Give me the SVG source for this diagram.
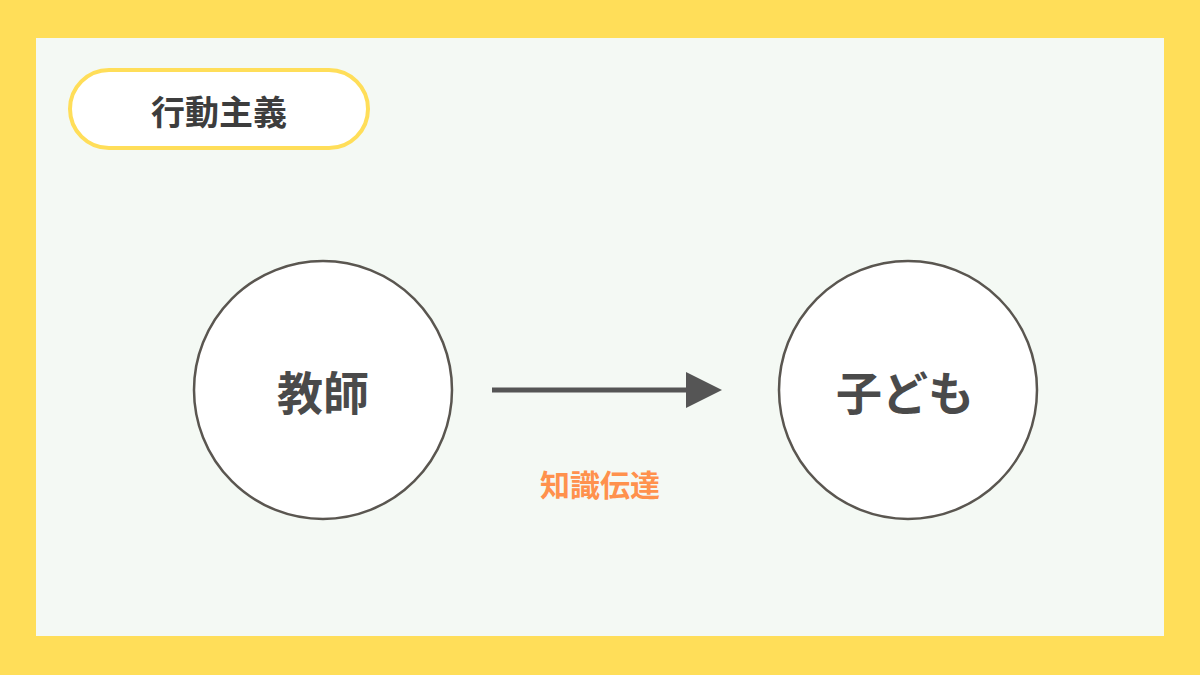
<svg xmlns="http://www.w3.org/2000/svg" width="1200" height="675" viewBox="0 0 1200 675">
<style>
text{font-family:"Noto Sans CJK JP","Noto Sans",sans-serif;font-weight:bold;text-anchor:middle;dominant-baseline:central}
.node{fill:#fff;stroke:#5a5650;stroke-width:2.5}
.nt{font-size:46px;fill:#4a4a4a}
</style>
<rect width="1200" height="675" fill="#FFDE59"/>
<rect x="36" y="38" width="1128" height="598" fill="#F4F9F4"/>
<g id="title"><rect x="70" y="70" width="298" height="78" rx="39" fill="#fff" stroke="#FFDE59" stroke-width="4"/>
<text x="219" y="110" font-size="34" fill="#3d3d3d">行動主義</text></g>
<g id="teacher"><circle class="node" cx="323" cy="390" r="129"/><text class="nt" x="323" y="390">教師</text></g>
<g id="child"><circle class="node" cx="908" cy="390" r="129"/><text class="nt" x="905" y="390">子ども</text></g>
<g id="connectors">
<line x1="492" y1="390" x2="692" y2="390" stroke="#555" stroke-width="5"/>
<polygon points="686,372 722,390 686,408" fill="#555"/>
<text x="600" y="483" font-size="30" fill="#FF914D">知識伝達</text>
</g>
</svg>
